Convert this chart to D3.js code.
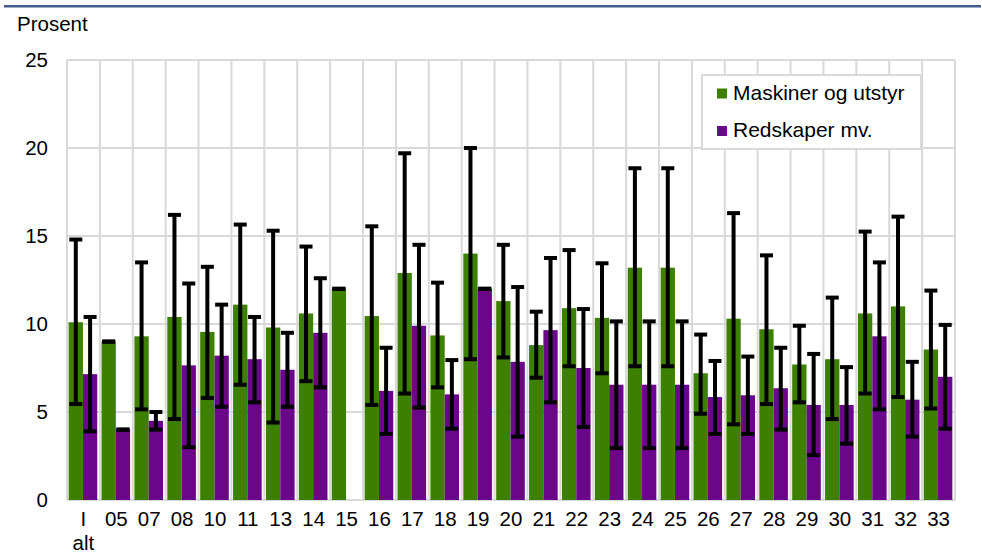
<!DOCTYPE html>
<html>
<head>
<meta charset="utf-8">
<script src="https://cdn.jsdelivr.net/npm/d3@7"></script>
<style>
  body { margin: 0; background: #fff; }
  text { font-family: "Liberation Sans", Arial, sans-serif; fill: #000; }
</style>
</head>
<body>
<div id="chart"></div>
<script>
// categories (industry codes)
const categories = ["I alt", "05", "07", "08", "10", "11", "13", "14", "15", "16", "17", "18", "19", "20",
  "21", "22", "23", "24", "25", "26", "27", "28", "29", "30", "31", "32", "33"];

// Maskiner og utstyr
const maskiner = [10.1, 9.0, 9.3, 10.4, 9.55, 11.1, 9.8, 10.6, 12.0, 10.45, 12.9, 9.35, 14.0, 11.3,
  8.8, 10.9, 10.35, 13.2, 13.2, 7.2, 10.3, 9.7, 7.7, 8.0, 10.6, 11.0, 8.55];
const maskinerLow = [5.45, 9.0, 5.15, 4.6, 5.8, 6.55, 4.4, 6.75, 12.0, 5.4, 6.05, 6.4, 8.0, 8.1,
  6.95, 7.6, 7.2, 7.6, 7.6, 4.9, 4.3, 5.45, 5.55, 4.6, 6.05, 5.85, 5.2];
const maskinerHigh = [14.8, 9.0, 13.5, 16.2, 13.25, 15.65, 15.3, 14.4, 12.0, 15.55, 19.7, 12.35, 20.0, 14.5,
  10.7, 14.2, 13.45, 18.85, 18.85, 9.4, 16.3, 13.9, 9.9, 11.5, 15.25, 16.1, 11.9];

// Redskaper mv. (no value for 15)
const redskaper = [7.15, 4.0, 4.5, 7.65, 8.2, 8.0, 7.4, 9.5, null, 6.2, 9.9, 6.0, 12.0, 7.85,
  9.65, 7.5, 6.55, 6.55, 6.55, 5.85, 5.95, 6.35, 5.4, 5.4, 9.3, 5.7, 7.0];
const redskaperLow = [3.9, 4.0, 4.0, 3.0, 5.3, 5.55, 5.3, 6.4, null, 3.75, 5.25, 4.05, 12.0, 3.6,
  5.55, 4.15, 2.95, 2.95, 2.95, 3.75, 3.75, 4.0, 2.55, 3.2, 5.15, 3.6, 4.05];
const redskaperHigh = [10.4, 4.0, 5.0, 12.3, 11.1, 10.4, 9.5, 12.6, null, 8.65, 14.5, 7.95, 12.0, 12.1,
  13.75, 10.85, 10.15, 10.15, 10.15, 7.9, 8.15, 8.65, 8.3, 7.55, 13.5, 7.85, 9.95];

const yTicks = [0, 5, 10, 15, 20, 25];

const series = [
  { name: "Maskiner og utstyr", color: "#3d8000", values: maskiner, low: maskinerLow, high: maskinerHigh },
  { name: "Redskaper mv.", color: "#69068a", values: redskaper, low: redskaperLow, high: redskaperHigh }
];

const width = 982, height = 556;
const plot = { left: 67, right: 955, top: 60, bottom: 500 };
const fontSize = "20.5px";

const svg = d3.select("#chart").append("svg")
  .attr("width", width)
  .attr("height", height);

// top rule
svg.append("rect")
  .attr("x", 4).attr("y", 5)
  .attr("width", 977).attr("height", 2.5)
  .attr("fill", "#405b8c");

const x = d3.scaleBand().domain(categories).range([plot.left, plot.right]).padding(0);
const y = d3.scaleLinear().domain([0, 25]).range([plot.bottom, plot.top]);

const barW = 14.3;
const gx = d3.scaleBand().domain([0, 1]).range([0, barW * 2]);
const groupOffset = (x.bandwidth() - barW * 2) / 2 - 0.5;

// gridlines
const grid = svg.append("g").attr("stroke", "#d9d9d9").attr("stroke-width", 2);
grid.selectAll("line.h")
  .data(yTicks)
  .join("line")
  .attr("class", "h")
  .attr("x1", plot.left).attr("x2", plot.right)
  .attr("y1", d => y(d)).attr("y2", d => y(d));

const bounds = categories.map(c => x(c)).concat([plot.right]);
grid.selectAll("line.v")
  .data(bounds)
  .join("line")
  .attr("class", "v")
  .attr("x1", d => d).attr("x2", d => d)
  .attr("y1", plot.top).attr("y2", plot.bottom);

// bars
series.forEach((s, si) => {
  svg.append("g")
    .selectAll("rect")
    .data(categories.map((c, i) => ({ c, v: s.values[i] })).filter(d => d.v != null))
    .join("rect")
    .attr("x", d => x(d.c) + groupOffset + gx(si))
    .attr("width", barW)
    .attr("y", d => y(d.v))
    .attr("height", d => y(0) - y(d.v))
    .attr("fill", s.color);
});

// error bars
const capW = 13;
series.forEach((s, si) => {
  const data = categories.map((c, i) => ({ c, lo: s.low[i], hi: s.high[i] })).filter(d => d.lo != null);
  const g = svg.append("g").attr("stroke", "#000");
  const cx = d => x(d.c) + groupOffset + gx(si) + barW / 2;
  g.selectAll("line.stem")
    .data(data)
    .join("line")
    .attr("class", "stem")
    .attr("stroke-width", 4)
    .attr("x1", cx).attr("x2", cx)
    .attr("y1", d => y(d.lo)).attr("y2", d => y(d.hi));
  ["lo", "hi"].forEach(k => {
    g.selectAll("line.cap-" + k)
      .data(data)
      .join("line")
      .attr("class", "cap-" + k)
      .attr("stroke-width", 4)
      .attr("x1", d => cx(d) - capW / 2).attr("x2", d => cx(d) + capW / 2)
      .attr("y1", d => y(d[k])).attr("y2", d => y(d[k]));
  });
});

// y tick labels
svg.append("g")
  .selectAll("text")
  .data(yTicks)
  .join("text")
  .attr("x", 48)
  .attr("y", d => y(d) + 7)
  .attr("text-anchor", "end")
  .attr("font-size", fontSize)
  .text(d => d);

svg.append("text")
  .attr("x", 17).attr("y", 31)
  .attr("font-size", fontSize)
  .text("Prosent");

// x labels
const xl = svg.append("g")
  .selectAll("text")
  .data(categories)
  .join("text")
  .attr("x", d => x(d) + x.bandwidth() / 2)
  .attr("y", 526)
  .attr("text-anchor", "middle")
  .attr("font-size", fontSize);
xl.each(function(d) {
  const parts = d.split(" ");
  d3.select(this).selectAll("tspan")
    .data(parts)
    .join("tspan")
    .attr("x", x(d) + x.bandwidth() / 2)
    .attr("dy", (p, i) => i === 0 ? 0 : 24)
    .text(p => p);
});

// legend
const lg = svg.append("g");
lg.append("rect")
  .attr("x", 702).attr("y", 75)
  .attr("width", 219).attr("height", 74)
  .attr("fill", "#fff")
  .attr("stroke", "#d9d9d9").attr("stroke-width", 2);
series.forEach((s, i) => {
  const yy = 99.5 + i * 37.5;
  lg.append("rect")
    .attr("x", 717).attr("y", yy - 11)
    .attr("width", 10).attr("height", 10)
    .attr("fill", s.color);
  lg.append("text")
    .attr("x", 733).attr("y", yy)
    .attr("font-size", "21px")
    .text(s.name);
});
</script>
</body>
</html>
